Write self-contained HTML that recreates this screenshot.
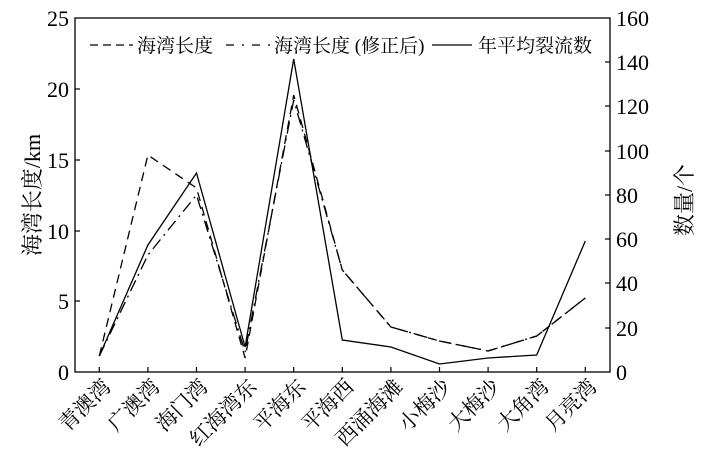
<!DOCTYPE html>
<html><head><meta charset="utf-8"><style>body{margin:0;background:#fff}svg{display:block}text{font-family:"Liberation Serif","Noto Serif CJK SC",serif;fill:#000}</style></head>
<body>
<svg width="709" height="467" viewBox="0 0 709 467">
<rect x="75" y="18" width="535" height="354" fill="none" stroke="#000" stroke-width="1.3"/>
<g stroke="#000" stroke-width="1.2">
<line x1="75" y1="301" x2="80" y2="301"/><line x1="75" y1="231" x2="80" y2="231"/><line x1="75" y1="160" x2="80" y2="160"/><line x1="75" y1="89" x2="80" y2="89"/>
<line x1="605" y1="328" x2="610" y2="328"/><line x1="605" y1="283" x2="610" y2="283"/><line x1="605" y1="239" x2="610" y2="239"/><line x1="605" y1="195" x2="610" y2="195"/><line x1="605" y1="151" x2="610" y2="151"/><line x1="605" y1="106" x2="610" y2="106"/><line x1="605" y1="62" x2="610" y2="62"/>
<line x1="99.3" y1="372" x2="99.3" y2="367"/><line x1="147.9" y1="372" x2="147.9" y2="367"/><line x1="196.5" y1="372" x2="196.5" y2="367"/><line x1="245.1" y1="372" x2="245.1" y2="367"/><line x1="293.7" y1="372" x2="293.7" y2="367"/><line x1="342.3" y1="372" x2="342.3" y2="367"/><line x1="390.9" y1="372" x2="390.9" y2="367"/><line x1="439.5" y1="372" x2="439.5" y2="367"/><line x1="488.1" y1="372" x2="488.1" y2="367"/><line x1="536.7" y1="372" x2="536.7" y2="367"/><line x1="585.3" y1="372" x2="585.3" y2="367"/>
</g>
<g font-size="22" text-anchor="end">
<text x="69" y="380">0</text><text x="69" y="309">5</text><text x="69" y="239">10</text><text x="69" y="168">15</text><text x="69" y="97">20</text><text x="69" y="26">25</text>
</g>
<g font-size="22" text-anchor="start">
<text x="616" y="380">0</text><text x="616" y="336">20</text><text x="616" y="291">40</text><text x="616" y="247">60</text><text x="616" y="203">80</text><text x="616" y="159">100</text><text x="616" y="114">120</text><text x="616" y="70">140</text><text x="616" y="26">160</text>
</g>
<text font-size="22" transform="translate(40,195) rotate(-90)" text-anchor="middle">海湾长度/km</text>
<text font-size="22" transform="translate(692,200) rotate(-90)" text-anchor="middle">数量/个</text>
<g font-size="21" text-anchor="end">
<text transform="translate(112,388) rotate(-45)">青澳湾</text>
<text transform="translate(161,388) rotate(-45)">广澳湾</text>
<text transform="translate(209,388) rotate(-45)">海门湾</text>
<text transform="translate(258,388) rotate(-45)">红海湾东</text>
<text transform="translate(307,388) rotate(-45)">平海东</text>
<text transform="translate(355,388) rotate(-45)">平海西</text>
<text transform="translate(404,388) rotate(-45)">西涌海滩</text>
<text transform="translate(452,388) rotate(-45)">小梅沙</text>
<text transform="translate(501,388) rotate(-45)">大梅沙</text>
<text transform="translate(550,388) rotate(-45)">大角湾</text>
<text transform="translate(598,388) rotate(-45)">月亮湾</text>
</g>
<g fill="none" stroke="#000" stroke-width="1.3">
<polyline stroke-dasharray="9,6" points="99.3,356 147.9,155 196.5,188 245.1,358 293.7,95 342.3,270 390.9,327 439.5,341 488.1,351 536.7,336 585.3,298"/>
<polyline stroke-dasharray="12,5,2,5" points="99.3,356 147.9,255 196.5,195 245.1,352 293.7,100 342.3,270 390.9,327 439.5,341 488.1,351 536.7,336 585.3,298"/>
<polyline points="99.3,356 147.9,245 196.5,173 245.1,347 293.7,59 342.3,340 390.9,347 439.5,364 488.1,358 536.7,355 585.3,241"/>
<line x1="90" y1="45" x2="133" y2="45" stroke-dasharray="8,5"/>
<line x1="226" y1="45" x2="270" y2="45" stroke-dasharray="8,8,2,8"/>
<line x1="432" y1="45" x2="472" y2="45"/>
</g>
<g font-size="19">
<text x="137" y="52">海湾长度</text>
<text x="274" y="52">海湾长度 (修正后)</text>
<text x="478" y="52">年平均裂流数</text>
</g>
</svg>
</body></html>
